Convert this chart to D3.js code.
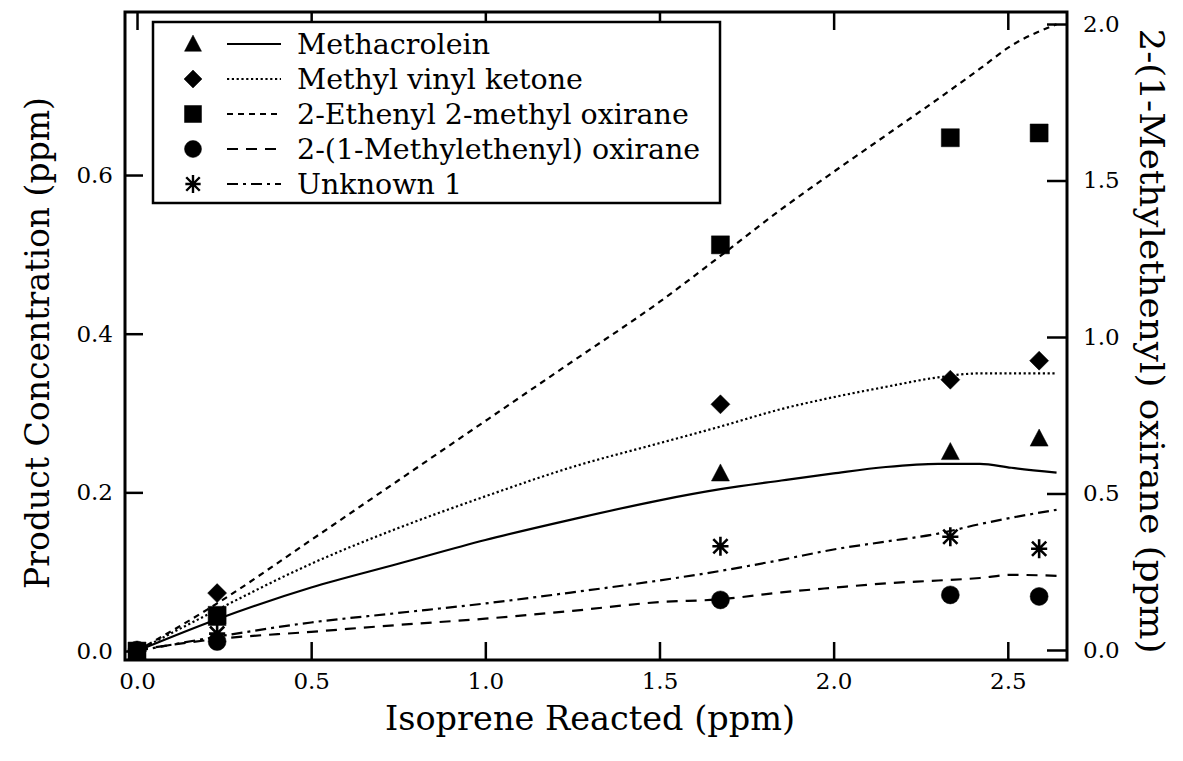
<!DOCTYPE html>
<html>
<head>
<meta charset="utf-8">
<script src="https://cdn.jsdelivr.net/npm/d3@7"></script>
<style>
  html, body { margin: 0; padding: 0; background: #fff; }
  svg { display: block; }
  text { font-family: "DejaVu Serif", "Liberation Serif", serif; fill: #000; }
</style>
</head>
<body>
<svg id="chart" width="1183" height="761"></svg>
<script>
// ---------------- data ----------------
const xMeasured = [0, 0.23, 1.675, 2.335, 2.59];
const methacrolein = [0, 0.042, 0.224, 0.251, 0.268];
const methylVinylKetone = [0, 0.073, 0.311, 0.342, 0.366];
const ethenylMethylOxirane = [0, 0.045, 0.512, 0.647, 0.653];
const methylethenylOxirane = [0, 0.027, 0.160, 0.176, 0.171]; // right axis
const unknown1 = [0, 0.022, 0.132, 0.144, 0.129];

// model curves
const modelX = [0, 0.23, 0.5, 0.75, 1.0, 1.25, 1.5, 1.675, 1.85, 2.0, 2.15, 2.3, 2.42, 2.51, 2.64];
const methacroleinModel = [0, 0.040, 0.080, 0.110, 0.140, 0.166, 0.190, 0.204, 0.215, 0.224, 0.232, 0.236, 0.236, 0.231, 0.225];
const mvkModel = [0, 0.052, 0.110, 0.155, 0.195, 0.232, 0.262, 0.283, 0.305, 0.320, 0.333, 0.345, 0.350, 0.350, 0.350];
const ethenylModel = [0, 0.060, 0.140, 0.215, 0.290, 0.365, 0.440, 0.498, 0.557, 0.604, 0.650, 0.696, 0.734, 0.763, 0.790];
const unknownModel = [0, 0.018, 0.036, 0.048, 0.060, 0.074, 0.089, 0.101, 0.115, 0.128, 0.138, 0.148, 0.160, 0.168, 0.178];
const methylethenylModel = [0, 0.035, 0.058, 0.080, 0.100, 0.125, 0.153, 0.162, 0.184, 0.199, 0.213, 0.222, 0.230, 0.240, 0.237]; // right axis

const xTicks = [0, 0.5, 1.0, 1.5, 2.0, 2.5];
const yLeftTicks = [0, 0.2, 0.4, 0.6];
const yRightTicks = [0, 0.5, 1.0, 1.5, 2.0];

const legendLabels = ["Methacrolein", "Methyl vinyl ketone", "2-Ethenyl 2-methyl oxirane", "2-(1-Methylethenyl) oxirane", "Unknown 1"];

// ---------------- layout ----------------
const L = 125, R = 1067, T = 12, B = 660;
const svg = d3.select("#chart");

const x = d3.scaleLinear().domain([-0.0345, 2.67]).range([L, R]);
const yL = d3.scaleLinear().domain([-0.0113, 0.8055]).range([B, T]);
const yR = d3.scaleLinear().domain([-0.032, 2.0384]).range([B, T]);

// marker path generators (centered at 0,0)
function markerPath(type, s) {
  const p = d3.path();
  if (type === "triangle") {
    const h = s * 0.95;
    p.moveTo(0, -h * 0.55); p.lineTo(s / 2, h * 0.45); p.lineTo(-s / 2, h * 0.45); p.closePath();
  } else if (type === "diamond") {
    const r = s / 2;
    p.moveTo(0, -r); p.lineTo(r, 0); p.lineTo(0, r); p.lineTo(-r, 0); p.closePath();
  } else if (type === "square") {
    p.rect(-s / 2, -s / 2, s, s);
  } else if (type === "circle") {
    p.arc(0, 0, s / 2, 0, 2 * Math.PI);
  } else if (type === "star") {
    const r = s / 2;
    p.moveTo(0, -r); p.lineTo(0, r);
    p.moveTo(-r * 0.85, 0); p.lineTo(r * 0.85, 0);
    const d = r * 0.75;
    p.moveTo(-d, -d); p.lineTo(d, d);
    p.moveTo(-d, d); p.lineTo(d, -d);
  }
  return p.toString();
}

const series = [
  { label: legendLabels[0], marker: "triangle", size: 18, vals: methacrolein, model: methacroleinModel, y: yL, dash: null },
  { label: legendLabels[1], marker: "diamond", size: 19, vals: methylVinylKetone, model: mvkModel, y: yL, dash: "2.2,2.6" },
  { label: legendLabels[2], marker: "square", size: 18, vals: ethenylMethylOxirane, model: ethenylModel, y: yL, dash: "6,5" },
  { label: legendLabels[3], marker: "circle", size: 18, vals: methylethenylOxirane, model: methylethenylModel, y: yR, dash: "11,8" },
  { label: legendLabels[4], marker: "star", size: 19, vals: unknown1, model: unknownModel, y: yL, dash: "11,5,3,5" }
];

// ---------------- axes ----------------
const fmt = d3.format(".1f");
const bottomAxis = d3.axisBottom(x).tickValues(xTicks).tickFormat(fmt).tickSizeInner(-18).tickSizeOuter(0).tickPadding(13);
const topAxis = d3.axisTop(x).tickValues(xTicks).tickFormat("").tickSizeInner(-18).tickSizeOuter(0);
const leftAxis = d3.axisLeft(yL).tickValues(yLeftTicks).tickFormat(fmt).tickSizeInner(-18).tickSizeOuter(0).tickPadding(12);
const rightAxis = d3.axisRight(yR).tickValues(yRightTicks).tickFormat(fmt).tickSizeInner(-20).tickSizeOuter(0).tickPadding(16);

function styleAxis(g) {
  g.select(".domain").remove();
  g.selectAll(".tick line").attr("stroke", "#000").attr("stroke-width", 2.5);
  g.selectAll(".tick text").style("font-family", '"DejaVu Serif", serif').style("font-size", "23px").attr("fill", "#000");
}
svg.append("g").attr("transform", `translate(0,${B})`).call(bottomAxis).call(styleAxis);
svg.append("g").attr("transform", `translate(0,${T})`).call(topAxis).call(styleAxis);
svg.append("g").attr("transform", `translate(${L},0)`).call(leftAxis).call(styleAxis);
svg.append("g").attr("transform", `translate(${R},0)`).call(rightAxis).call(styleAxis);

// frame
svg.append("rect").attr("x", L).attr("y", T).attr("width", R - L).attr("height", B - T)
  .attr("fill", "none").attr("stroke", "#000").attr("stroke-width", 3);

// ---------------- model lines ----------------
series.forEach(s => {
  const line = d3.line().x((d, i) => x(modelX[i])).y(d => s.y(d)).curve(d3.curveMonotoneX);
  svg.append("path").datum(s.model).attr("d", line)
    .attr("fill", "none").attr("stroke", "#000").attr("stroke-width", 2.2)
    .attr("stroke-dasharray", s.dash);
});

// ---------------- markers ----------------
series.forEach(s => {
  svg.append("g").selectAll("path").data(s.vals).join("path")
    .attr("transform", (d, i) => `translate(${x(xMeasured[i])},${s.y(d)})`)
    .attr("d", markerPath(s.marker, s.size))
    .attr("fill", s.marker === "star" ? "none" : "#000")
    .attr("stroke", "#000").attr("stroke-width", s.marker === "star" ? 2.6 : 0.5);
});

// ---------------- legend ----------------
const lg = svg.append("g");
lg.append("rect").attr("x", 153).attr("y", 22).attr("width", 567).attr("height", 181)
  .attr("fill", "#fff").attr("stroke", "#000").attr("stroke-width", 2.5);
series.forEach((s, i) => {
  const cy = 44 + i * 35;
  lg.append("path").attr("transform", `translate(193,${cy})`).attr("d", markerPath(s.marker, s.size - 1))
    .attr("fill", s.marker === "star" ? "none" : "#000").attr("stroke", "#000").attr("stroke-width", s.marker === "star" ? 2.4 : 0.5);
  lg.append("line").attr("x1", 227).attr("x2", 281).attr("y1", cy).attr("y2", cy)
    .attr("stroke", "#000").attr("stroke-width", 2).attr("stroke-dasharray", s.dash);
  lg.append("text").attr("x", 297).attr("y", cy).attr("dy", "0.36em").style("font-size", "28.5px").text(s.label);
});

// ---------------- axis titles ----------------
svg.append("text").attr("x", 590).attr("y", 718).attr("text-anchor", "middle").attr("dy", "0.36em")
  .attr("textLength", 410).attr("lengthAdjust", "spacingAndGlyphs")
  .style("font-size", "34px").text("Isoprene Reacted (ppm)");
svg.append("text").attr("transform", `translate(37,${343}) rotate(-90)`).attr("text-anchor", "middle").attr("dy", "0.36em")
  .attr("textLength", 492).attr("lengthAdjust", "spacingAndGlyphs")
  .style("font-size", "33px").text("Product Concentration (ppm)");
svg.append("text").attr("transform", `translate(1152,${341}) rotate(90)`).attr("text-anchor", "middle").attr("dy", "0.36em")
  .attr("textLength", 625).attr("lengthAdjust", "spacingAndGlyphs")
  .style("font-size", "33px").text("2-(1-Methylethenyl) oxirane (ppm)");
</script>
</body>
</html>
